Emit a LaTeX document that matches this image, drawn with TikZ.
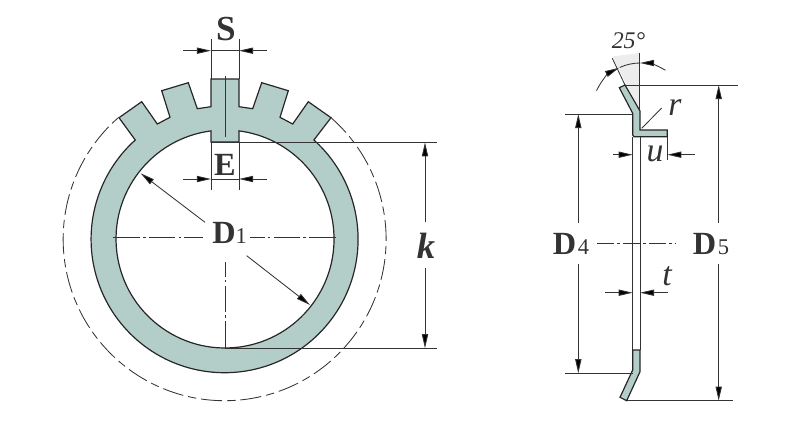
\documentclass[tikz,border=0pt]{standalone}
\usepackage{fontspec}
\setmainfont{Liberation Serif}
\usetikzlibrary{arrows.meta}
\definecolor{ringfill}{HTML}{B3CDC8}
\definecolor{wedgefill}{HTML}{EDEDED}
\definecolor{inkdark}{HTML}{333333}
\newcommand{\subdim}[1]{{\fontsize{16}{17}\selectfont\mdseries #1}}
\tikzset{
  dimline/.style={draw=inkdark,line width=0.6pt,-{Triangle[length=10pt,width=4.4pt,fill=black]}},
  extline/.style={draw=inkdark,line width=0.6pt},
  outline/.style={draw=black!85,line width=0.85pt,fill=ringfill},
  centerline/.style={draw=inkdark,line width=0.6pt,dash pattern=on 19pt off 2.2pt on 2pt off 2.2pt},
  boldlabel/.style={anchor=base,inner sep=0pt,text=inkdark,font=\fontsize{23}{24}\selectfont\bfseries},
  itlabel/.style={anchor=base,inner sep=0pt,text=inkdark,font=\fontsize{24}{25}\selectfont\itshape}
}
\begin{document}
\begin{tikzpicture}[x=0.025cm,y=0.025cm]
  \useasboundingbox (0,0) rectangle (800,-420);
  \coordinate (ctr) at (225,-239);

  % ring with teeth
  \draw[outline,even odd rule]
    (119,-117.7) -- (141.7,-101.7) -- (157.3,-124) -- (170,-117.3) -- (161.7,-90.7) -- (188.3,-82.7)
    -- (197.3,-108.7) -- (211,-106.7) -- (211,-79) -- (239,-79) -- (239,-106.7) -- (252.7,-108.7)
    -- (261.7,-82.7) -- (288.3,-90.7) -- (280,-117.3) -- (292.7,-124) -- (308.3,-101.7) -- (331,-117.7)
    -- (313.9,-140) arc[start angle=48,end angle=-228,radius=133.5] -- cycle
    (211,-142) -- (211,-130.9) arc[start angle=97.4,end angle=442.6,radius=109] -- (239,-142) -- cycle;
  \draw[extline,dash pattern=on 15pt off 3.5pt on 6pt off 3.5pt]
    (331,-117.7) arc[start angle=48.8,end angle=-228.8,radius=161.5];

  % centre lines
  \draw[centerline] (113,-237.5) -- (203,-237.5);
  \draw[centerline] (336,-237.5) -- (250,-237.5);
  \draw[centerline] (225,-348) -- (225,-262);
  \draw[extline] (225,-76) -- (225,-137);

  % S
  \node[boldlabel] (labelS) at (226,-41) {\fontsize{25}{26}\selectfont S};
  \draw[extline] (211,-39) -- (211,-79);
  \draw[extline] (239,-39) -- (239,-79);
  \draw[extline] (211,-50.7) -- (239,-50.7);
  \draw[dimline] (183,-50.7) -- (211,-50.7);
  \draw[dimline] (267,-50.7) -- (239,-50.7);

  % E
  \node[boldlabel] (labelE) at (225,-175) {E};
  \draw[extline] (211,-142) -- (211,-190);
  \draw[extline] (239,-142) -- (239,-190);
  \draw[extline] (211,-179) -- (239,-179);
  \draw[dimline] (183,-179) -- (211,-179);
  \draw[dimline] (267,-179) -- (239,-179);

  % D1
  \node[boldlabel,anchor=base west] (labelDa) at (212,-243) {D\subdim{1}};
  \draw[dimline] (205,-222.3) -- (140.7,-173.3);
  \draw[dimline] (246.7,-255.7) -- (310,-305);

  % k
  \node[itlabel] (labelk) at (426,-258) {\fontsize{26}{27}\selectfont\bfseries k};
  \draw[extline] (211,-142.3) -- (437,-142.3);
  \draw[extline] (225,-348.3) -- (437,-348.3);
  \draw[dimline] (425,-222) -- (425,-142.3);
  \draw[dimline] (425,-268) -- (425,-348.3);

  % side view
  \fill[wedgefill] (640,-111) -- (612.3,-56.5) -- (639.5,-53) -- cycle;
  \draw[extline] (639.5,-53) -- (639.5,-111);
  \draw[extline] (625,-85) -- (612.3,-58.3);
  \draw[outline]
    (619.3,-87.7) -- (625,-85) -- (640,-111) -- (640,-130) -- (667.3,-130) -- (667.3,-136.7)
    -- (634,-136.7) -- (632.7,-135) -- (632.7,-113.3) -- cycle;
  \draw[extline] (632.7,-137) -- (632.7,-350);
  \draw[extline] (640,-137) -- (640,-350);
  \draw[outline]
    (632.7,-350) -- (640,-350) -- (640,-371.7) -- (626.7,-400.7) -- (620,-397.3) -- (632.7,-370) -- cycle;

  % 25 deg
  \node[itlabel] (labelangle) at (628.5,-49) {\fontsize{17}{18}\selectfont 25°};
  \draw[extline] (640,-111) ++(115:48) arc[start angle=115,end angle=90,radius=48];
  \draw[dimline] (640,-111) ++(155:48) arc[start angle=155,end angle=116,radius=48];
  \draw[dimline] (640,-111) ++(58:48) arc[start angle=58,end angle=90,radius=48];

  % r
  \node[itlabel] (labelr) at (675,-115) {r};
  \draw[extline] (641.7,-128.3) -- (661.7,-108);

  % u
  \node[itlabel] (labelu) at (655,-161) {u};
  \draw[extline] (667.3,-137) -- (667.3,-160);
  \draw[dimline] (613,-154.7) -- (632.7,-154.7);
  \draw[dimline] (695,-154.7) -- (667.3,-154.7);

  % t
  \node[itlabel] (labelt) at (667,-285) {t};
  \draw[dimline] (605,-292.7) -- (632.7,-292.7);
  \draw[dimline] (668,-292.7) -- (640,-292.7);

  % centre mark
  \draw[centerline,dash pattern=on 12pt off 2.2pt on 2pt off 2.2pt] (597.3,-243) -- (675,-243);

  % D4
  \node[boldlabel,anchor=base west] (labelDd) at (552.7,-254) {D\kern1pt\subdim{4}};
  \draw[extline] (565,-114) -- (632.7,-114);
  \draw[extline] (565,-373.3) -- (632.7,-373.3);
  \draw[dimline] (578.3,-223) -- (578.3,-114);
  \draw[dimline] (578.3,-264) -- (578.3,-373.3);

  % D5
  \node[boldlabel,anchor=base west] (labelDe) at (692.7,-254) {D\kern1pt\subdim{5}};
  \draw[extline] (625,-85) -- (737.7,-85);
  \draw[extline] (626.7,-400.7) -- (732.7,-400.7);
  \draw[dimline] (718.7,-223) -- (718.7,-85);
  \draw[dimline] (718.7,-264) -- (718.7,-400.7);
\end{tikzpicture}
\end{document}
